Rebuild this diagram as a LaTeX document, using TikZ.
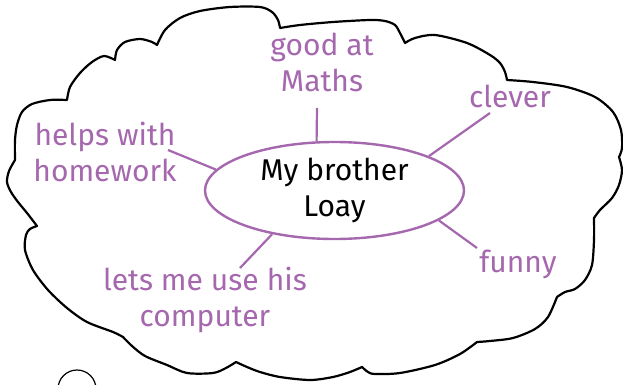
\documentclass[tikz,border=0pt]{standalone}
\usepackage{fontspec}
\setmainfont{Fira Sans}
\usepackage{xcolor}
\usepackage{tikz}
\usetikzlibrary{shapes.geometric}
\definecolor{mindpurple}{RGB}{165,103,173}

\begin{document}
\begin{tikzpicture}[x=1pt,y=-1pt,
  lbl/.style={text=mindpurple,font=\fontsize{30}{36}\selectfont,align=center,inner sep=0pt},
  spoke/.style={mindpurple,line width=2.2pt},
  cloudline/.style={line width=2.2pt,line join=round}]
  \useasboundingbox (0,0) rectangle (623,385);
  \clip (0,0) rectangle (623,385);

  % Cloud
  \draw[cloudline] plot[smooth] coordinates {(67,100) (70,87) (80,73) (92,62) (104,56) (115,60)}
    -- plot[smooth] coordinates {(115,60) (117,50) (125,42) (140,39) (152,42) (157,45)}
    -- plot[smooth] coordinates {(157,45) (165,30) (180,18) (200,11) (230,7) (260,7) (272,12) (278,20) (280,28)}
    -- plot[smooth] coordinates {(280,28) (300,25) (333,22) (370,20) (385,21) (395,25) (400,33) (405,43)}
    -- plot[smooth] coordinates {(405,43) (415,38) (435,35) (467,43) (490,55) (500,63) (505,72) (507,80)}
    -- plot[smooth] coordinates {(507,80) (533,82) (567,87) (595,97) (613,112) (621,130) (622,148) (619,157)}
    -- plot[smooth] coordinates {(619,157) (622,170) (619,185) (612,198) (600,210) (594,218)}
    -- plot[smooth] coordinates {(594,218) (594,240) (592,265) (585,280) (575,289) (565,292) (557,297)}
    -- plot[smooth] coordinates {(557,297) (548,317) (535,329) (513,338) (490,341) (477,342)}
    -- plot[smooth] coordinates {(477,342) (460,354) (435,365) (400,373) (375,374) (368,372) (362,367)}
    -- plot[smooth] coordinates {(362,367) (350,372) (333,377) (310,380) (280,377) (260,372) (247,367) (236,362)}
    -- plot[smooth] coordinates {(236,362) (226,368) (213,373) (187,373) (167,365) (145,356) (132,346) (123,337)}
    -- plot[smooth] coordinates {(123,337) (113,332) (87,322) (67,308) (48,290) (33,270) (25,250) (26,235) (30,229) (37,226)}
    -- plot[smooth] coordinates {(37,226) (27,213) (18,202) (11,192) (7,182) (9,171) (15,160)}
    -- plot[smooth] coordinates {(15,160) (15,140) (17,125) (22,112) (32,104) (50,100) (67,100)}
    -- cycle;

  % Small circle at the bottom
  \draw[line width=1.2pt] (77,389) circle[radius=19pt];

  % Centre
  \node[ellipse,draw=mindpurple,line width=2.4pt,minimum width=259pt,minimum height=97pt,
    inner sep=0pt,align=center,font=\fontsize{30}{36}\selectfont] (brother) at (334.5,190.5) {My brother\\Loay};

  % Labels
  \node[lbl] (maths) at (322,62) {good at\\Maths};
  \node[lbl] (clever) at (510,96) {clever};
  \node[lbl] (helps) at (105,152) {helps with\\homework};
  \node[lbl] (funny) at (518,264) {funny};
  \node[lbl] (computer) at (205,300) {lets me use his\\computer};

  % Spokes
  \coordinate (mathsend) at (317,108);
  \coordinate (cleverend) at (490,113);
  \coordinate (helpsend) at (168,150);
  \coordinate (funnyend) at (477,248);
  \coordinate (computerend) at (240,268);
  \draw[spoke] (brother.110) -- (mathsend);
  \draw[spoke] (brother.20) -- (cleverend);
  \draw[spoke] (brother.170) -- (helpsend);
  \draw[spoke] (brother.-16) -- (funnyend);
  \draw[spoke] (brother.215) -- (computerend);
\end{tikzpicture}
\end{document}
